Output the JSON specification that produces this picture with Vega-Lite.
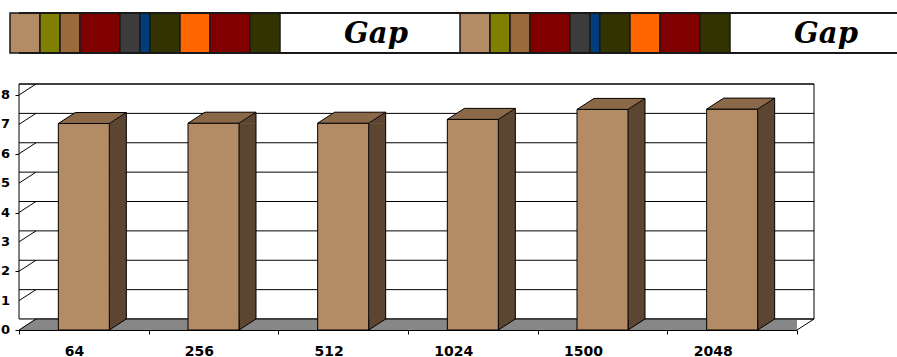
{
  "$schema": "https://vega.github.io/schema/vega-lite/v6.json",
  "background": "white",
  "padding": {"left": 0, "top": 12, "right": 0, "bottom": 0},
  "bounds": "flush",
  "spacing": 42,
  "config": {
    "view": {"stroke": null},
    "axis": {"labelOverlap": false, "labelFlush": false}
  },
  "datasets": {
    "frame": [
      {"part": "f1", "len": 30}, {"part": "f2", "len": 20}, {"part": "f3", "len": 20},
      {"part": "f4", "len": 40}, {"part": "f5", "len": 20}, {"part": "f6", "len": 10},
      {"part": "f7", "len": 30}, {"part": "f8", "len": 30}, {"part": "f9", "len": 40},
      {"part": "f10", "len": 30}, {"part": "Gap", "len": 180},
      {"part": "f1", "len": 30}, {"part": "f2", "len": 20}, {"part": "f3", "len": 20},
      {"part": "f4", "len": 40}, {"part": "f5", "len": 20}, {"part": "f6", "len": 10},
      {"part": "f7", "len": 30}, {"part": "f8", "len": 30}, {"part": "f9", "len": 40},
      {"part": "f10", "len": 30}, {"part": "Gap", "len": 168}
    ],
    "sizes": [
      {"size": "64", "rate": 7.03},
      {"size": "256", "rate": 7.04},
      {"size": "512", "rate": 7.04},
      {"size": "1024", "rate": 7.17},
      {"size": "1500", "rate": 7.51},
      {"size": "2048", "rate": 7.52}
    ],
    "ticks": [
      {"v": 0}, {"v": 1}, {"v": 2}, {"v": 3}, {"v": 4},
      {"v": 5}, {"v": 6}, {"v": 7}, {"v": 8}
    ]
  },
  "vconcat": [
    {
      "width": 879,
      "height": 40,
      "data": {"name": "frame"},
      "transform": [{"stack": "len", "groupby": [], "as": ["x0", "x1"]}],
      "layer": [
        {
          "transform": [{"filter": "datum.part !== 'Gap'"}],
          "mark": {"type": "rect", "stroke": "#1a1a1a", "strokeWidth": 1.5},
          "encoding": {
            "x": {"field": "x0", "type": "quantitative", "title": null, "axis": null,
                  "scale": {"domain": [0, 888], "range": [-9, 879], "nice": false, "zero": false}},
            "x2": {"field": "x1"},
            "y": {"datum": 0, "type": "quantitative", "axis": null, "scale": {"domain": [0, 1], "nice": false}},
            "y2": {"datum": 1},
            "color": {
              "field": "part", "type": "nominal", "legend": null,
              "scale": {
                "domain": ["f1", "f2", "f3", "f4", "f5", "f6", "f7", "f8", "f9", "f10", "Gap"],
                "range": ["#b38b65", "#808000", "#9a6a3a", "#800000", "#3c3c3c", "#003d7a", "#333300", "#ff6600", "#800000", "#333300", "#ffffff"]
              }
            }
          }
        },
        {
          "mark": {"type": "rule", "stroke": "#1a1a1a", "strokeWidth": 1.5},
          "encoding": {"y": {"datum": 0, "type": "quantitative"}}
        },
        {
          "mark": {"type": "rule", "stroke": "#1a1a1a", "strokeWidth": 1.5},
          "encoding": {"y": {"datum": 1, "type": "quantitative"}}
        },
        {
          "transform": [{"filter": "datum.part === 'Gap'"}],
          "mark": {"type": "text", "font": "DejaVu Serif", "fontStyle": "italic", "fontWeight": "bold",
                   "fontSize": 29, "align": "center", "baseline": "middle", "dx": 96, "dy": 1, "color": "black"},
          "encoding": {
            "x": {"field": "x0", "type": "quantitative", "title": null},
            "y": {"datum": 0.5, "type": "quantitative"},
            "text": {"field": "part"}
          }
        }
      ]
    },
    {
      "width": 778,
      "height": 235,
      "layer": [
        {
          "data": {"name": "ticks"},
          "mark": {"type": "rule", "stroke": "black", "strokeWidth": 1,
                   "xOffset": 17, "x2Offset": 17, "yOffset": -11, "opacity": 0},
          "encoding": {
            "y": {
              "field": "v", "type": "quantitative", "title": null,
              "scale": {"domain": [0, 8], "nice": false},
              "axis": {
                "values": [0, 1, 2, 3, 4, 5, 6, 7, 8], "tickCount": 8, "grid": false, "labels": false,
                "domainColor": "black", "domainWidth": 1, "tickColor": "black", "tickSize": 4
              }
            }
          }
        },
        {
          "data": {"name": "ticks"},
          "mark": {"type": "text", "font": "DejaVu Sans", "fontWeight": "bold", "fontSize": 13,
                   "color": "black", "align": "right", "baseline": "middle", "dx": -9},
          "encoding": {
            "x": {"datum": "64", "bandPosition": 0},
            "y": {"field": "v", "type": "quantitative", "title": null},
            "text": {"field": "v"}
          }
        },
        {
          "data": {"values": [{}]},
          "mark": {"type": "rect", "fill": "white", "stroke": "black", "strokeWidth": 1,
                   "xOffset": 17, "x2Offset": 17, "yOffset": -11, "y2Offset": -11},
          "encoding": {"y": {"datum": 0, "type": "quantitative"}, "y2": {"datum": 8}}
        },
        {
          "data": {"values": [{}]},
          "mark": {"type": "rect", "fill": "#878787", "x2Offset": 17, "y2Offset": -11},
          "encoding": {"y": {"datum": 0, "type": "quantitative"}, "y2": {"datum": 0}}
        },
        {
          "data": {"values": [{}]},
          "mark": {"type": "point", "shape": "M0,-11.5L0,0L17,-11.5Z", "size": 4, "filled": true,
                   "fill": "white", "strokeWidth": 0, "opacity": 1},
          "encoding": {
            "x": {"datum": "64", "bandPosition": 0},
            "y": {"datum": 0, "type": "quantitative"}
          }
        },
        {
          "data": {"values": [{}]},
          "mark": {"type": "point", "shape": "M0,0.5L17.5,0.5L17.5,-11Z", "size": 4, "filled": true,
                   "fill": "white", "strokeWidth": 0, "opacity": 1},
          "encoding": {
            "x": {"datum": "2048", "bandPosition": 1},
            "y": {"datum": 0, "type": "quantitative"}
          }
        },
        {
          "data": {"name": "ticks"},
          "mark": {"type": "rule", "stroke": "black", "strokeWidth": 1,
                   "xOffset": 17, "x2Offset": 17, "yOffset": -11},
          "encoding": {"y": {"field": "v", "type": "quantitative", "title": null}}
        },
        {
          "data": {"name": "ticks"},
          "mark": {"type": "point", "shape": "M0,0L17,-11", "size": 4, "filled": false,
                   "stroke": "black", "strokeWidth": 1, "opacity": 1},
          "encoding": {
            "x": {"datum": "64", "bandPosition": 0},
            "y": {"field": "v", "type": "quantitative", "title": null}
          }
        },
        {
          "data": {"values": [{}]},
          "mark": {"type": "point", "shape": "M0,0L17,-11", "size": 4, "filled": false,
                   "stroke": "black", "strokeWidth": 1, "opacity": 1},
          "encoding": {
            "x": {"datum": "2048", "bandPosition": 1},
            "y": {"datum": 0, "type": "quantitative"}
          }
        },
        {
          "data": {"name": "sizes"},
          "encoding": {
            "x": {
              "field": "size", "type": "nominal", "title": null,
              "scale": {"domain": ["64", "256", "512", "1024", "1500", "2048"], "paddingInner": 0, "paddingOuter": 0},
              "axis": {
                "domainColor": "black", "domainWidth": 1, "tickColor": "black", "tickSize": 4,
                "tickBand": "extent", "labelAngle": 0, "labelFont": "DejaVu Sans", "labelFontWeight": "bold",
                "labelFontSize": 14, "labelColor": "black", "labelPadding": 17, "grid": false
              }
            },
            "y": {"field": "rate", "type": "quantitative", "title": null}
          },
          "layer": [
            {
              "mark": {"type": "bar", "width": 17, "xOffset": 34, "fill": "#5d4631", "y2Offset": -10.5},
              "encoding": {"y2": {"datum": 0}}
            },
            {
              "mark": {"type": "point", "shape": "M0,-11L0,0L17,-11", "size": 4, "filled": true,
                       "fill": "#5d4631", "stroke": "black", "strokeWidth": 1, "xOffset": 25.5, "opacity": 1},
              "encoding": {"y": {"datum": 0, "type": "quantitative"}}
            },
            {
              "mark": {"type": "point", "shape": "M25.5,0.5L25.5,0L42.5,-11L42.5,0.5Z", "size": 4, "filled": true,
                       "fill": "#5d4631", "strokeWidth": 0, "opacity": 1}
            },
            {
              "mark": {"type": "rule", "stroke": "black", "strokeWidth": 1, "xOffset": 42.5, "yOffset": -11, "y2Offset": -11},
              "encoding": {"y2": {"datum": 0}}
            },
            {
              "mark": {"type": "bar", "width": 51, "fill": "#b38b65", "stroke": "black", "strokeWidth": 1}
            },
            {
              "mark": {"type": "point", "shape": "M-25.5,0L25.5,0L42.5,-11L-8.5,-11Z", "size": 4, "filled": true,
                       "fill": "#8a6848", "stroke": "black", "strokeWidth": 1, "opacity": 1}
            }
          ]
        }
      ]
    }
  ]
}
